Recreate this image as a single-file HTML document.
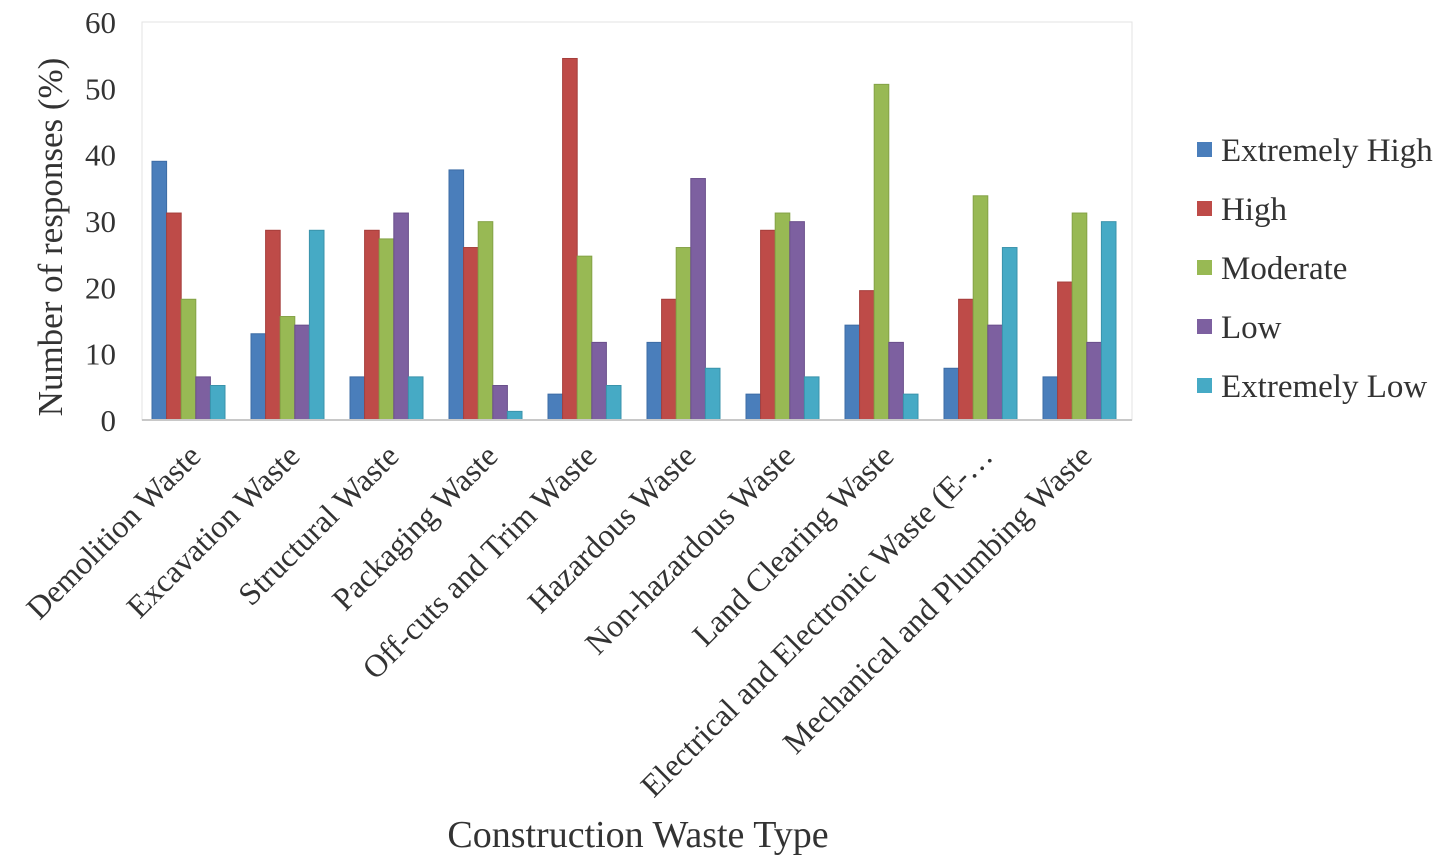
<!DOCTYPE html>
<html><head><meta charset="utf-8"><style>
html,body{margin:0;padding:0;background:#fff;}
svg{display:block;font-family:"Liberation Serif",serif;}
</style></head><body>
<svg id="chart" width="1441" height="864" viewBox="0 0 1441 864">
<rect x="142" y="22" width="990" height="398" fill="#fff" stroke="#e3e3e3"/>
<g id="bars"></g>
<line x1="142" y1="420" x2="1132" y2="420" stroke="#c8c8c8" stroke-width="2"/>
<g id="yticks"></g>
<g id="xticks"></g>
<text x="62" y="237" font-size="35" fill="#333" text-anchor="middle" transform="rotate(-90 62 237)">Number of responses (%)</text>
<text x="638" y="847" font-size="38" fill="#333" text-anchor="middle">Construction Waste Type</text>
<g id="legend"></g>
</svg>
<script>
const categories=["Demolition Waste","Excavation Waste","Structural Waste","Packaging Waste","Off-cuts and Trim Waste","Hazardous Waste","Non-hazardous Waste","Land Clearing Waste","Electrical and Electronic Waste (E-…","Mechanical and Plumbing Waste"];
const seriesNames=["Extremely High","High","Moderate","Low","Extremely Low"];
const extremelyHigh=[39.0,13.0,6.5,37.7,3.9,11.7,3.9,14.3,7.8,6.5];
const high=[31.2,28.6,28.6,26.0,54.5,18.2,28.6,19.5,18.2,20.8];
const moderate=[18.2,15.6,27.3,29.9,24.7,26.0,31.2,50.6,33.8,31.2];
const low=[6.5,14.3,31.2,5.2,11.7,36.4,29.9,11.7,14.3,11.7];
const extremelyLow=[5.2,28.6,6.5,1.3,5.2,7.8,6.5,3.9,26.0,29.9];
const yTicks=[0,10,20,30,40,50,60];
const series=[extremelyHigh,high,moderate,low,extremelyLow];
const colors=["#4a7ebb","#be4b48","#98b954","#7d60a0","#46aac5"];
const strokes=["#3d6ca5","#a63e3b","#84a246","#6a4f8b","#3a93ab"];
const NS="http://www.w3.org/2000/svg";
const x0=142,x1=1132,yTop=22,yBase=420,yMax=60;
const y=v=>yBase-(v/yMax)*(yBase-yTop);
const bandW=(x1-x0)/categories.length;
const barW=14.6;
const xc=i=>x0+bandW*(i+0.5)-3;
function mk(tag,attrs,parent){const e=document.createElementNS(NS,tag);for(const k in attrs)e.setAttribute(k,attrs[k]);parent.appendChild(e);return e;}
const gb=document.getElementById('bars');
series.forEach((vals,s)=>{vals.forEach((v,i)=>{
 const bx=xc(i)-2.5*barW+s*barW;
 const r=mk('rect',{x:bx,y:y(v),width:barW,height:yBase-y(v),fill:colors[s],stroke:strokes[s],'stroke-width':1},gb);
 
 
});});
const gy=document.getElementById('yticks');
yTicks.forEach(t=>{const e=mk('text',{x:116,y:y(t)+11,'font-size':31,fill:'#333','text-anchor':'end'},gy);e.textContent=t;
 
 });
const gx=document.getElementById('xticks');
categories.forEach((c,i)=>{const tx=xc(i)+14,ty=458;
 const e=mk('text',{x:tx,y:ty,'font-size':32,fill:'#333','text-anchor':'end',transform:`rotate(-45 ${tx} ${ty})`},gx);e.textContent=c;
 
 });
const gl=document.getElementById('legend');
seriesNames.forEach((n,s)=>{const ly=150+s*59;
 const g=mk('g',{},gl);
 
 
 mk('rect',{x:1197,y:ly-8,width:15,height:15,fill:colors[s]},g);
 const t=mk('text',{x:1221,y:ly+11,'font-size':33,fill:'#333'},g);t.textContent=n;});
</script>
</body></html>
